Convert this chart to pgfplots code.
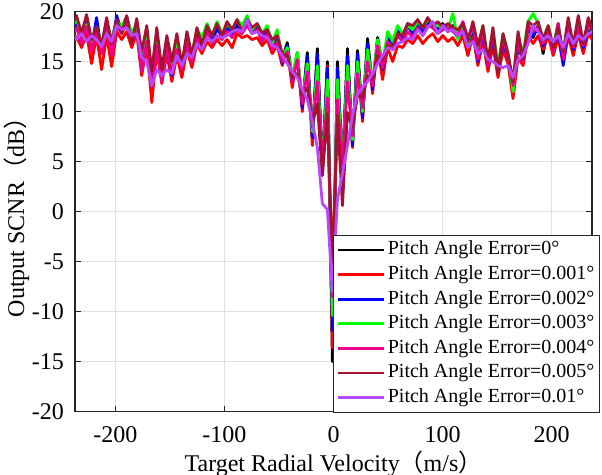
\documentclass[border=0pt]{standalone}
\usepackage{fontspec}
\setmainfont{Liberation Serif}
\newfontfamily\cjk{Noto Sans CJK SC}
\usepackage{pgfplots}
\pgfplotsset{compat=1.18}
\usepackage{pgfplotstable}
\definecolor{maroonc}{RGB}{162,20,47}
\definecolor{violetc}{RGB}{183,72,255}
\definecolor{greenc}{RGB}{0,255,0}

\pgfplotstableread{
x b r u g m o p
-240.2 17.8 16.8 18.0 18.2 17.5 18.6 18.0
-235.6 19.0 17.5 18.8 19.3 18.4 19.6 17.2
-231.0 17.2 16.4 17.5 17.6 16.8 17.8 17.8
-226.4 18.8 17.8 19.0 18.7 18.5 19.7 17.0
-221.8 16.8 14.8 16.4 17.0 16.0 17.2 17.6
-217.2 18.6 17.6 19.4 18.4 18.2 18.5 17.2
-212.6 16.5 14.2 16.0 16.8 15.8 16.6 16.5
-208.0 18.8 17.6 18.5 19.0 18.4 19.4 17.8
-203.4 17.0 14.5 16.5 17.2 15.6 16.8 17.0
-198.8 19.2 18.0 19.6 19.0 18.6 19.2 18.6
-194.2 18.4 17.2 18.0 18.6 17.8 17.8 18.2
-189.6 19.5 18.0 19.0 19.3 18.8 19.6 18.4
-185.0 17.6 16.4 17.2 17.8 16.9 16.8 17.6
-180.4 18.6 17.8 18.4 18.8 18.0 19.3 17.8
-175.8 15.6 13.6 15.2 15.8 14.0 16.0 15.4
-171.2 17.8 16.6 17.5 18.0 17.0 18.6 15.0
-166.6 13.0 10.9 12.8 13.2 12.5 14.0 12.6
-162.0 17.2 16.2 17.0 17.5 16.6 18.4 14.2
-157.4 13.8 12.8 13.4 14.0 13.0 14.2 13.6
-152.8 17.0 15.8 16.8 17.2 16.5 17.6 14.2
-148.2 14.2 13.0 13.6 14.5 13.8 15.0 13.8
-143.6 16.8 15.6 16.6 17.0 16.2 17.8 15.6
-139.0 14.8 13.4 14.4 15.0 14.2 14.6 14.6
-134.4 17.4 16.2 17.6 17.2 16.8 18.0 15.8
-129.8 15.6 14.4 15.2 15.8 15.0 15.6 15.4
-125.2 18.0 16.8 17.8 18.2 17.4 18.4 16.8
-120.6 17.0 15.8 16.6 17.4 16.4 16.6 16.2
-116.0 18.4 17.0 18.6 18.8 18.0 18.6 17.4
-111.4 17.4 16.4 17.2 17.6 16.8 17.6 17.0
-106.8 18.4 17.2 18.2 19.0 17.6 18.8 17.6
-102.2 17.6 16.6 17.6 17.8 17.2 17.6 17.4
-97.6 18.6 17.2 18.4 18.8 18.0 19.0 17.6
-93.0 17.8 16.4 17.8 18.2 17.4 18.2 18.0
-88.4 18.8 17.8 18.6 19.2 18.2 19.2 18.2
-83.8 18.2 17.4 18.0 18.6 17.8 18.0 18.0
-79.2 19.0 17.6 19.0 19.6 18.6 19.2 19.2
-74.6 18.0 17.2 17.8 18.2 17.8 18.4 17.8
-70.0 18.6 17.4 18.4 18.8 18.2 18.8 18.0
-65.4 17.4 16.6 17.2 17.8 17.0 17.8 17.6
-60.8 18.2 17.2 18.0 18.6 17.8 18.2 17.4
-56.2 16.4 15.8 16.4 16.8 16.2 17.2 16.6
-51.6 17.6 16.6 17.4 18.2 17.0 17.6 16.4
-47.0 15.2 14.6 14.8 15.4 15.0 15.8 15.6
-42.4 16.9 16.2 16.6 16.4 16.0 15.6 14.8
-37.8 13.2 12.4 13.0 13.6 13.0 13.4 14.0
-33.2 15.9 15.6 15.6 15.9 15.2 13.8 13.4
-28.6 10.5 10.0 10.4 11.0 10.8 11.6 12.2
-24.0 15.9 15.4 15.6 14.8 14.0 12.4 11.2
-19.4 7.6 6.6 7.4 8.0 8.4 8.8 9.0
-14.8 16.3 15.8 15.8 14.6 13.0 10.8 6.4
-10.2 4.2 3.6 4.0 4.4 4.8 3.6 0.8
-5.6 15.0 14.6 14.4 13.2 11.4 9.8 0.2
-1.0 -15.0 -13.6 -11.9 -10.4 -8.5 -5.2 -8.0
3.6 15.0 14.4 14.4 13.2 11.2 9.6 1.2
8.2 4.2 3.8 4.0 4.4 4.6 0.6 3.8
12.8 16.3 15.4 15.6 14.6 13.0 9.9 6.6
17.4 6.8 6.4 6.6 7.2 7.6 8.4 9.6
22.0 16.1 15.2 15.8 15.0 13.8 11.6 11.8
26.6 9.6 9.0 9.4 10.0 10.4 11.4 12.4
31.2 17.3 16.4 16.8 16.2 15.0 13.6 13.0
35.8 12.4 11.8 12.2 12.8 12.6 13.2 13.8
40.4 17.4 16.6 17.0 17.2 16.6 15.6 14.8
45.0 14.6 13.2 14.2 14.8 14.4 15.2 15.6
49.6 17.6 16.4 17.4 18.0 17.0 16.6 16.4
54.2 16.8 15.0 16.4 17.0 16.2 16.4 16.2
58.8 18.4 16.6 18.2 18.6 17.6 17.8 16.8
63.4 17.6 16.4 17.4 17.8 17.0 17.6 17.0
68.0 18.8 17.2 18.6 18.6 18.0 18.8 17.4
72.6 18.0 16.8 17.8 18.2 17.4 18.6 17.2
77.2 19.0 17.6 18.8 19.0 18.4 19.2 18.2
81.8 18.2 16.8 18.0 18.4 17.6 18.4 17.6
86.4 19.0 17.4 18.8 19.2 18.6 19.4 18.4
91.0 18.6 17.8 18.4 18.8 18.4 18.6 19.0
95.6 18.2 17.0 18.0 18.6 17.8 19.0 17.8
100.2 18.8 17.6 18.6 18.4 18.2 18.4 18.6
104.8 18.0 17.0 18.4 18.2 18.4 18.8 18.0
109.4 18.6 17.4 18.2 19.8 18.0 18.4 18.2
114.0 17.6 16.6 17.4 17.2 17.6 18.2 17.6
118.6 18.4 17.6 18.0 18.8 19.0 18.8 18.0
123.2 17.0 15.6 16.8 16.8 17.4 17.0 16.4
127.8 18.4 17.6 18.2 18.8 18.6 19.0 17.0
132.4 15.4 14.6 15.0 15.6 15.2 16.6 15.8
137.0 18.0 17.0 17.8 18.6 18.2 18.6 16.2
141.6 15.0 14.0 14.6 15.0 14.6 15.0 15.2
146.2 17.6 16.6 17.4 18.2 17.8 18.4 15.0
150.8 14.4 13.4 14.0 14.6 14.0 13.8 14.6
155.4 17.2 16.2 17.0 17.8 17.4 17.8 14.4
160.0 15.6 14.8 15.4 15.8 15.4 15.8 14.6
164.6 12.8 11.3 12.4 12.0 12.6 13.0 13.4
169.2 16.6 15.4 16.4 17.4 17.0 18.0 15.2
173.8 15.6 14.6 15.2 15.8 15.0 15.2 15.6
178.4 18.4 17.6 18.6 19.0 18.6 19.0 16.8
183.0 17.4 16.8 17.6 19.8 18.0 18.6 18.6
187.6 18.6 17.6 18.4 18.8 18.4 19.0 18.0
192.2 15.8 16.2 16.6 17.2 16.8 17.2 17.2
196.8 18.4 17.6 18.2 18.6 18.2 18.6 17.6
201.4 16.4 15.6 16.2 16.6 16.0 16.4 17.0
206.0 18.8 17.4 18.2 18.6 18.8 18.4 17.6
210.6 15.2 14.8 14.6 15.6 15.2 16.0 16.4
215.2 18.4 17.6 18.2 18.8 18.6 19.4 17.8
219.8 16.4 15.6 16.2 16.8 16.4 16.6 16.8
224.4 18.6 17.8 18.4 18.8 18.4 19.6 17.6
229.0 16.6 15.8 16.4 16.8 16.6 16.8 17.2
233.6 18.6 17.8 18.2 18.6 18.8 19.4 17.8
238.2 17.8 17.0 17.6 18.0 17.6 17.8 18.0
}\data

\begin{document}
\begin{tikzpicture}
\begin{axis}[
  scale only axis, width=258.5pt, height=200pt,
  xmin=-237, xmax=237, ymin=-20, ymax=20,
  xtick={-200,-100,0,100,200}, ytick={-20,-15,...,20},
  /pgf/number format/assume math mode=true,
  grid=major, major grid style={black!12, line width=0.5pt},
  axis line style={black!85, line width=0.6pt},
  tick style={black!85, line width=0.6pt}, major tick length=3pt,
  tick label style={font=\fontsize{12}{14}\selectfont},
  xticklabel style={yshift=-4pt},
  yticklabel style={xshift=-2pt},
  xlabel={Target Radial Velocity{\cjk （}m/s{\cjk ）}},
  ylabel={Output SCNR{\cjk （}dB{\cjk ）}},
  label style={font=\fontsize{12}{14}\selectfont},
  xlabel style={yshift=3pt},
  ylabel style={yshift=-5.5pt},
  legend cell align=left,
  legend style={at={(1.0155,-0.0025)}, anchor=south east, draw=black!85, line width=0.5pt,
    fill=white, inner sep=1.5pt, row sep=0.9pt,
    font=\fontsize{10}{12}\selectfont,
    nodes={inner sep=1.1pt, text height=7pt, text depth=2.2pt}},
  legend image code/.code={\draw[#1, line width=1.4pt] (0pt,0pt) -- (23pt,0pt);},
  every axis plot/.append style={line width=1.4pt, line join=round},
]
\addplot[black] table[x=x,y=b] {\data};
\addlegendentry{Pitch Angle Error=0°}
\addplot[red] table[x=x,y=r] {\data};
\addlegendentry{Pitch Angle Error=0.001°}
\addplot[blue] table[x=x,y=u] {\data};
\addlegendentry{Pitch Angle Error=0.002°}
\addplot[greenc] table[x=x,y=g] {\data};
\addlegendentry{Pitch Angle Error=0.003°}
\addplot[magenta] table[x=x,y=m] {\data};
\addlegendentry{Pitch Angle Error=0.004°}
\addplot[maroonc] table[x=x,y=o] {\data};
\addlegendentry{Pitch Angle Error=0.005°}
\addplot[violetc] table[x=x,y=p] {\data};
\addlegendentry{Pitch Angle Error=0.01°}
\end{axis}
\pgfresetboundingbox
\path ([xshift=-37.5pt,yshift=-31.7pt]current axis.south west) rectangle ([xshift=5pt,yshift=5.8pt]current axis.north east);
\end{tikzpicture}
\end{document}
